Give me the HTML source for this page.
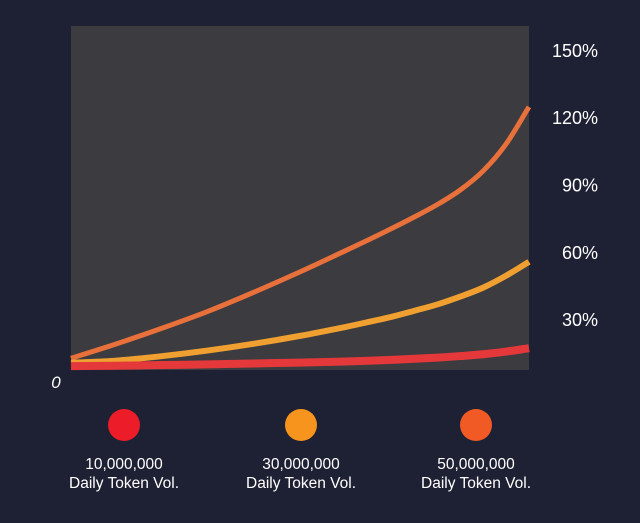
<!DOCTYPE html>
<html><head><meta charset="utf-8"><style>
html,body{margin:0;padding:0;background:#1e2033;}
svg{display:block;font-family:"Liberation Sans",sans-serif;}
</style></head><body>
<svg id="chart" width="640" height="523">
<rect x="0" y="0" width="640" height="523" fill="#1e2033"/>
<rect x="71" y="26" width="458" height="344" fill="#3c3b40"/>
<g id="yaxis"></g>
<text x="56" y="388" fill="#fff" font-size="17" font-style="italic" text-anchor="middle">0</text>
<g id="lines"></g>
<g id="legend"></g>
</svg>
<script>
const tValues=[0,0.1,0.2,0.3,0.4,0.5,0.6,0.65,0.7,0.75,0.8,0.85,0.9,0.95,1.0];
const series10M=[9.5,9.7,10,10.3,10.7,11.1,11.6,11.9,12.3,12.8,13.3,14,14.8,16,17.5];
const series30M=[11,12,14,16.5,19.5,23,27,29.2,31.5,34.2,37,40.5,44.5,49.8,56];
const series50M=[13,19.5,26.5,34,42.5,51.5,61,65.8,70.8,76,81.5,88,96.5,108.5,125];
const yTicks=[30,60,90,120,150];
const yTickLabels=["30%","60%","90%","120%","150%"];
const legendLabels=["10,000,000","30,000,000","50,000,000"];

const NS="http://www.w3.org/2000/svg";
function xs(t){return 71+t*458;}
function ys(v){return 387.5-v*2.245;}
const yg=document.getElementById('yaxis');
yTicks.forEach((v,i)=>{
  const t=document.createElementNS(NS,'text');
  t.setAttribute('x',598);t.setAttribute('y',ys(v)+6);
  t.setAttribute('fill','#fff');t.setAttribute('font-size','18');t.setAttribute('text-anchor','end');
  t.textContent=yTickLabels[i];
  
  
  yg.appendChild(t);
});
const lg=document.getElementById('lines');
function drawLine(vals,color,w,name){
  const p=document.createElementNS(NS,'path');
  const pts=vals.map((v,i)=>[xs(tValues[i]),ys(v)]);
  let d='M'+pts[0][0]+','+pts[0][1];
  for(let i=0;i<pts.length-1;i++){
    const p0=pts[Math.max(0,i-1)],p1=pts[i],p2=pts[i+1],p3=pts[Math.min(pts.length-1,i+2)];
    const h=p2[0]-p1[0];
    const m1=(p2[1]-p0[1])/((p2[0]-p0[0])||1),m2=(p3[1]-p1[1])/((p3[0]-p1[0])||1);
    d+=' C'+(p1[0]+h/3)+','+(p1[1]+m1*h/3)+' '+(p2[0]-h/3)+','+(p2[1]-m2*h/3)+' '+p2[0]+','+p2[1];
  }
  p.setAttribute('d',d);p.setAttribute('fill','none');p.setAttribute('stroke',color);p.setAttribute('stroke-width',w);
  
  
  lg.appendChild(p);
}
drawLine(series50M,'#e8703a',5,'line-50m');
drawLine(series30M,'#f0a030',6,'line-30m');
drawLine(series10M,'#e4383a',8,'line-10m');

const legend=document.getElementById('legend');
const lcolors=['#ec1c28','#f7941d','#f15a24'];
const lx=[124,301,476];
legendLabels.forEach((lab,i)=>{
  const c=document.createElementNS(NS,'circle');
  c.setAttribute('cx',lx[i]);c.setAttribute('cy',425);c.setAttribute('r',16);c.setAttribute('fill',lcolors[i]);
  
  
  legend.appendChild(c);
  const t1=document.createElementNS(NS,'text');
  t1.setAttribute('x',lx[i]);t1.setAttribute('y',469);t1.setAttribute('fill','#fff');t1.setAttribute('font-size','15.5');t1.setAttribute('text-anchor','middle');
  t1.textContent=lab;
  
  
  legend.appendChild(t1);
  const t2=document.createElementNS(NS,'text');
  t2.setAttribute('x',lx[i]);t2.setAttribute('y',488);t2.setAttribute('fill','#fff');t2.setAttribute('font-size','15.5');t2.setAttribute('text-anchor','middle');
  t2.textContent='Daily Token Vol.';
  
  
  legend.appendChild(t2);
});
</script>
</body></html>
